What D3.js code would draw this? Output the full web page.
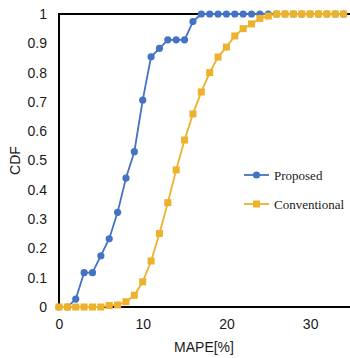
<!DOCTYPE html>
<html>
<head>
<meta charset="utf-8">
<script src="https://cdn.jsdelivr.net/npm/d3@7"></script>
<style>
  html, body { margin: 0; padding: 0; background: #fff; }
  svg { display: block; }
</style>
</head>
<body>
<svg id="chart" width="350" height="358"></svg>
<script>
// MAPE values (%) at which the CDF is sampled
const mape = d3.range(0, 35);
// CDF of the proposed method
const proposed = [0, 0, 0.027, 0.117, 0.117, 0.175, 0.233, 0.323, 0.44, 0.53,
  0.706, 0.854, 0.883, 0.912, 0.912, 0.912, 0.974, 1, 1, 1,
  1, 1, 1, 1, 1, 1, 1, 1, 1, 1, 1, 1, 1, 1, 1];
// CDF of the conventional method
const conventional = [0, 0, 0, 0, 0, 0, 0.005, 0.007, 0.018, 0.04,
  0.086, 0.157, 0.251, 0.356, 0.468, 0.57, 0.659, 0.734, 0.8, 0.853,
  0.887, 0.925, 0.95, 0.966, 0.985, 0.993, 1, 1, 1, 1, 1, 1, 1, 1, 1];
const xTicks = [0, 10, 20, 30];
const yTicks = [0, 0.1, 0.2, 0.3, 0.4, 0.5, 0.6, 0.7, 0.8, 0.9, 1];
const seriesNames = ["Proposed", "Conventional"];

const blue = "#4472C4";
const gold = "#EDB12C";
const sans = "'Liberation Sans', Arial, sans-serif";
const serif = "'Liberation Serif', 'Times New Roman', serif";

const svg = d3.select("#chart");
const x = d3.scaleLinear().domain([0, 35]).range([59, 352]);
const y = d3.scaleLinear().domain([0, 1]).range([307, 14]);

// frame: left and top edges plus the bottom axis line
svg.append("line").attr("x1", x(0)).attr("x2", x(0)).attr("y1", y(1) - 1).attr("y2", y(0) + 1)
  .attr("stroke", "#000").attr("stroke-width", 2);
svg.append("line").attr("x1", x(0)).attr("x2", 350).attr("y1", y(1)).attr("y2", y(1))
  .attr("stroke", "#000").attr("stroke-width", 2);
svg.append("line").attr("x1", x(0)).attr("x2", 350).attr("y1", y(0)).attr("y2", y(0))
  .attr("stroke", "#000").attr("stroke-width", 2);

// tick labels
const xAxis = d3.axisBottom(x).tickValues(xTicks).tickSize(0).tickPadding(0).tickFormat(d3.format("d"));
const gx = svg.append("g").attr("transform", `translate(0,${y(0) + 12})`).call(xAxis);
gx.select(".domain").remove();
gx.selectAll("text").attr("font-family", sans)
  .attr("font-size", 14).attr("fill", "#1a1a1a").attr("dy", "0.71em");

const yAxis = d3.axisLeft(y).tickValues(yTicks).tickSize(0).tickPadding(0).tickFormat(d => d3.format("")(d));
const gy = svg.append("g").attr("transform", `translate(47,0)`).call(yAxis);
gy.select(".domain").remove();
gy.selectAll("text").attr("font-family", sans)
  .attr("font-size", 14).attr("fill", "#1a1a1a");

// axis titles
svg.append("text").attr("x", 204).attr("y", 352).attr("text-anchor", "middle")
  .attr("font-family", sans).attr("font-size", 14).attr("fill", "#1a1a1a")
  .text("MAPE[%]");
svg.append("text").attr("transform", `translate(20,${(y(0) + y(1)) / 2}) rotate(-90)`)
  .attr("text-anchor", "middle")
  .attr("font-family", sans).attr("font-size", 14).attr("fill", "#1a1a1a")
  .text("CDF");

const line = d3.line().x((d, i) => x(mape[i])).y(d => y(d));

// proposed: line with circle markers
svg.append("path").datum(proposed).attr("d", line)
  .attr("fill", "none").attr("stroke", blue).attr("stroke-width", 1.8);
svg.append("g").selectAll("circle").data(proposed).join("circle")
  .attr("cx", (d, i) => x(mape[i])).attr("cy", d => y(d)).attr("r", 3.6).attr("fill", blue);

// conventional: line with square markers (drawn on top)
const s = 7;
svg.append("path").datum(conventional).attr("d", line)
  .attr("fill", "none").attr("stroke", gold).attr("stroke-width", 1.8);
svg.append("g").selectAll("rect").data(conventional).join("rect")
  .attr("x", (d, i) => x(mape[i]) - s / 2).attr("y", d => y(d) - s / 2)
  .attr("width", s).attr("height", s).attr("fill", gold);

// legend
const legend = svg.append("g");
const entries = [
  { name: seriesNames[0], color: blue, shape: "circle", cy: 175 },
  { name: seriesNames[1], color: gold, shape: "square", cy: 204 }
];
entries.forEach(e => {
  legend.append("line").attr("x1", 244).attr("x2", 269).attr("y1", e.cy).attr("y2", e.cy)
    .attr("stroke", e.color).attr("stroke-width", 1.8);
  if (e.shape === "circle") {
    legend.append("circle").attr("cx", 256.5).attr("cy", e.cy).attr("r", 3.6).attr("fill", e.color);
  } else {
    legend.append("rect").attr("x", 256.5 - s / 2).attr("y", e.cy - s / 2)
      .attr("width", s).attr("height", s).attr("fill", e.color);
  }
  legend.append("text").attr("x", 274).attr("y", e.cy).attr("dy", "0.35em")
    .attr("font-family", serif).attr("font-size", 13)
    .attr("fill", "#1a1a1a").text(e.name);
});
</script>
</body>
</html>
